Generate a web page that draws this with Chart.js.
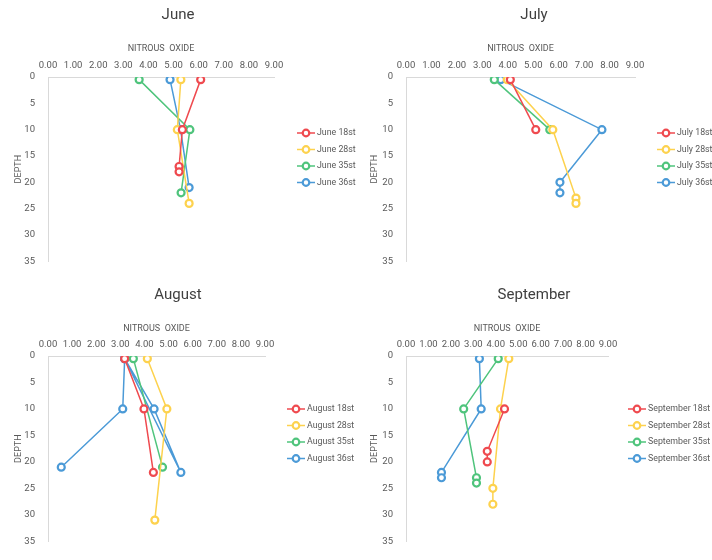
<!DOCTYPE html>
<html>
<head>
<meta charset="utf-8">
<script src="https://cdn.jsdelivr.net/npm/chart.js@4.4.0/dist/chart.umd.min.js"></script>
<style>
  body { margin: 0; background: #fff; }
  #wrap { position: relative; width: 712px; height: 560px; }
  .panel { position: absolute; width: 356px; height: 280px; }
</style>
</head>
<body>
<div id="wrap">
  <div class="panel" style="left:0;top:0"><canvas id="juneChart" width="356" height="280"></canvas></div>
  <div class="panel" style="left:356px;top:0"><canvas id="julyChart" width="356" height="280"></canvas></div>
  <div class="panel" style="left:0;top:280px"><canvas id="augustChart" width="356" height="280"></canvas></div>
  <div class="panel" style="left:356px;top:280px"><canvas id="septemberChart" width="356" height="280"></canvas></div>
</div>
<script>
// tick values
const xTicks = [0, 1, 2, 3, 4, 5, 6, 7, 8, 9];
const depthTicks = [0, 5, 10, 15, 20, 25, 30, 35];

const stationLabels = ['18st', '28st', '35st', '36st'];
const seriesColors = ['#ef4a4f', '#fdd24e', '#4fc47c', '#4b9ad7'];

// June
const june18Depth = [0.5, 10, 17, 18];
const june18N2O   = [6.08, 5.35, 5.22, 5.22];
const june28Depth = [0.5, 10, 24];
const june28N2O   = [5.29, 5.15, 5.62];
const june35Depth = [0.5, 10, 22];
const june35N2O   = [3.63, 5.65, 5.30];
const june36Depth = [0.5, 10, 21];
const june36N2O   = [4.86, 5.28, 5.62];

// July
const july18Depth = [0.5, 10];
const july18N2O   = [4.10, 5.10];
const july28Depth = [0.5, 10, 23, 24];
const july28N2O   = [3.98, 5.77, 6.68, 6.68];
const july35Depth = [0.5, 10];
const july35N2O   = [3.47, 5.65];
const july36Depth = [0.5, 10, 20, 22];
const july36N2O   = [3.72, 7.70, 6.05, 6.05];

// August
const august18Depth = [0.5, 10, 22];
const august18N2O   = [3.18, 3.98, 4.37];
const august28Depth = [0.5, 10, 31];
const august28N2O   = [4.12, 4.93, 4.43];
const august35Depth = [0.5, 21];
const august35N2O   = [3.54, 4.75];
const august36Depth = [0.5, 10, 21];
const august36N2O   = [3.18, 3.10, 0.55];
// second blue trace in the August panel (not in legend)
const august36bDepth = [0.5, 10, 22, 0.5];
const august36bN2O   = [3.18, 4.40, 5.51, 3.18];

// September
const september18Depth = [10, 18, 20];
const september18N2O   = [4.39, 3.62, 3.62];
const september28Depth = [0.5, 10, 25, 28];
const september28N2O   = [4.58, 4.21, 3.87, 3.87];
const september35Depth = [0.5, 10, 23, 24];
const september35N2O   = [4.11, 2.57, 3.14, 3.14];
const september36Depth = [0.5, 10, 22, 23];
const september36N2O   = [3.27, 3.35, 1.58, 1.58];

const FONT = "Roboto, 'Noto Sans', sans-serif";
const TEXT = '#595959';

function points(xs, ys) {
    return xs.map((x, i) => ({ x: x, y: ys[i] }));
}

function series(label, color, xs, ys) {
    return {
        label: label,
        data: points(xs, ys),
        showLine: true,
        borderColor: color,
        backgroundColor: color,
        borderWidth: 1.5,
        pointRadius: 3.5,
        pointBorderWidth: 2.2,
        pointBorderColor: color,
        pointBackgroundColor: '#fff'
    };
}

// draws the legend at a fixed spot to the right of the plot
const fixedLegend = {
    id: 'fixedLegend',
    afterDraw(chart, args, opts) {
        const ctx = chart.ctx;
        let y = opts.y;
        ctx.save();
        chart.data.datasets.forEach(ds => {
            if (!ds.label) return;
            ctx.strokeStyle = ds.borderColor;
            ctx.lineWidth = 1.5;
            ctx.beginPath();
            ctx.moveTo(opts.x, y);
            ctx.lineTo(opts.x + 18, y);
            ctx.stroke();
            ctx.beginPath();
            ctx.arc(opts.x + 9, y, 3.3, 0, Math.PI * 2);
            ctx.fillStyle = '#fff';
            ctx.fill();
            ctx.lineWidth = 2.2;
            ctx.stroke();
            ctx.fillStyle = TEXT;
            ctx.font = '8.8px ' + FONT;
            ctx.textBaseline = 'middle';
            ctx.textAlign = 'left';
            ctx.fillText(ds.label, opts.x + 20, y);
            y += 16.5;
        });
        ctx.restore();
    }
};

function makeChart(id, title, datasets, area, legendPos) {
    const ctx = document.getElementById(id).getContext('2d');
    return new Chart(ctx, {
        type: 'scatter',
        data: { datasets: datasets },
        plugins: [fixedLegend],
        options: {
            responsive: false,
            animation: false,
            layout: { padding: { left: 0, top: 0, right: 0, bottom: 280 - area.bottom } },
            plugins: {
                legend: { display: false },
                tooltip: { enabled: false },
                title: {
                    display: true,
                    text: title,
                    color: '#404040',
                    font: { family: FONT, size: 15, weight: 'normal' },
                    padding: { top: 6, bottom: 0 }
                },
                fixedLegend: legendPos
            },
            scales: {
                x: {
                    type: 'linear',
                    position: 'top',
                    min: 0,
                    max: 9,
                    afterBuildTicks: s => { s.ticks = xTicks.map(v => ({ value: v })); },
                    afterFit: s => { s.height = area.top - 24; },
                    ticks: {
                        color: TEXT,
                        padding: 6,
                        maxRotation: 0,
                        font: { family: FONT, size: 9.5 },
                        callback: v => Number(v).toFixed(2)
                    },
                    grid: { display: false, drawTicks: false },
                    border: { display: true, color: '#d9d9d9', width: 1 },
                    title: {
                        display: true,
                        text: 'NITROUS  OXIDE',
                        color: TEXT,
                        font: { family: FONT, size: 9 },
                        padding: { top: 19, bottom: 0 }
                    }
                },
                y: {
                    type: 'linear',
                    reverse: true,
                    min: 0,
                    max: 35,
                    afterBuildTicks: s => { s.ticks = depthTicks.map(v => ({ value: v })); },
                    afterFit: s => { s.width = area.left; },
                    ticks: {
                        color: TEXT,
                        padding: 13,
                        font: { family: FONT, size: 9.5 }
                    },
                    grid: { display: false, drawTicks: false },
                    border: { display: true, color: '#d9d9d9', width: 1 },
                    title: {
                        display: true,
                        text: 'DEPTH',
                        color: TEXT,
                        font: { family: FONT, size: 9 },
                        padding: { top: 13, bottom: 0 }
                    }
                },
                // empty right-hand box that leaves room for the legend
                legendSpace: {
                    type: 'linear',
                    position: 'right',
                    min: 0,
                    max: 1,
                    afterFit: s => { s.width = 356 - area.right; },
                    ticks: { display: false },
                    grid: { display: false, drawTicks: false },
                    border: { display: false }
                }
            }
        }
    });
}

makeChart('juneChart', 'June', [
    series('June ' + stationLabels[0], seriesColors[0], june18N2O, june18Depth),
    series('June ' + stationLabels[1], seriesColors[1], june28N2O, june28Depth),
    series('June ' + stationLabels[2], seriesColors[2], june35N2O, june35Depth),
    series('June ' + stationLabels[3], seriesColors[3], june36N2O, june36Depth)
], { left: 48, right: 274, top: 77, bottom: 274 }, { x: 297, y: 133 });

makeChart('julyChart', 'July', [
    series('July ' + stationLabels[0], seriesColors[0], july18N2O, july18Depth),
    series('July ' + stationLabels[1], seriesColors[1], july28N2O, july28Depth),
    series('July ' + stationLabels[2], seriesColors[2], july35N2O, july35Depth),
    series('July ' + stationLabels[3], seriesColors[3], july36N2O, july36Depth)
], { left: 50, right: 279, top: 77, bottom: 274 }, { x: 301, y: 133 });

makeChart('augustChart', 'August', [
    series('August ' + stationLabels[0], seriesColors[0], august18N2O, august18Depth),
    series('August ' + stationLabels[1], seriesColors[1], august28N2O, august28Depth),
    series('August ' + stationLabels[2], seriesColors[2], august35N2O, august35Depth),
    series('August ' + stationLabels[3], seriesColors[3], august36N2O, august36Depth),
    series('', seriesColors[3], august36bN2O, august36bDepth)
], { left: 48, right: 265, top: 76, bottom: 272 }, { x: 287, y: 129 });

makeChart('septemberChart', 'September', [
    series('September ' + stationLabels[0], seriesColors[0], september18N2O, september18Depth),
    series('September ' + stationLabels[1], seriesColors[1], september28N2O, september28Depth),
    series('September ' + stationLabels[2], seriesColors[2], september35N2O, september35Depth),
    series('September ' + stationLabels[3], seriesColors[3], september36N2O, september36Depth)
], { left: 50, right: 252, top: 76, bottom: 272 }, { x: 272, y: 129 });
</script>
</body>
</html>
